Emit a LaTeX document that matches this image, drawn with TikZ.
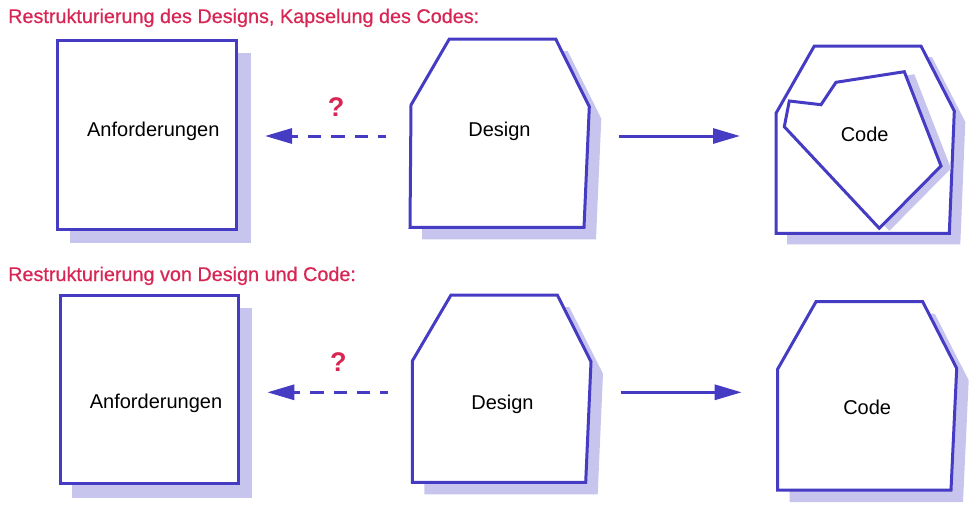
\documentclass[tikz,border=0pt]{standalone}
\usepackage{fontspec}
\setmainfont{Liberation Sans}
\newfontfamily\titlefont[FakeBold=0.6]{Liberation Sans}
\usetikzlibrary{arrows.meta}
\definecolor{strokeblue}{RGB}{70,60,196}
\definecolor{shadowblue}{RGB}{199,196,237}
\definecolor{titlered}{RGB}{216,38,84}
\begin{document}
\begin{tikzpicture}[x=1pt,y=-1pt,
  shapeline/.style={draw=strokeblue,line width=3pt,fill=white,line join=miter},
  shadowfill/.style={fill=shadowblue,draw=none},
  label/.style={inner sep=0pt,anchor=base,font=\fontsize{20}{23}\selectfont},
  titletext/.style={inner sep=0pt,anchor=base west,text=titlered,font=\titlefont\fontsize{19.8}{24}\selectfont},
  qmark/.style={inner sep=0pt,anchor=base,text=titlered,font=\fontsize{27}{30}\selectfont\bfseries},
  solidarrow/.style={draw=strokeblue,line width=3pt,-{Triangle[length=27pt,width=15pt]}},
  dasharrow/.style={solidarrow,dash pattern=on 13.3pt off 10pt,dash phase=5.3pt}]
\useasboundingbox (0,0) rectangle (974,509);

% ---------- titles ----------
\node[titletext] (t1) at (8,23) {Restrukturierung des Designs, Kapselung des Codes:};
\node[titletext] (t2) at (8,281) {Restrukturierung von Design und Code:};

% ---------- top row ----------
% Anforderungen
\fill[shadowfill] (70,53) rectangle (250.5,242.5);
\draw[shapeline] (57.7,40) rectangle (236,229);
\node[label] (anf1) at (153.3,136) {Anforderungen};
% Design
\fill[shadowfill] ([shift={(12,12)}]449.3,39) -- ([shift={(12,12)}]555.7,39) -- ([shift={(12,12)}]589.3,106.7) -- ([shift={(12,12)}]584,227.3) -- ([shift={(12,12)}]410,227.3) -- ([shift={(12,12)}]411,105) -- cycle;
\draw[shapeline] (449.3,39) -- (555.7,39) -- (589.3,106.7) -- (584,227.3) -- (410,227.3) -- (411,105) -- cycle;
\node[label] (des1) at (499.5,136.7) {Design};
% Code (outer)
\fill[shadowfill] ([shift={(11,11)}]814.3,46) -- ([shift={(11,11)}]921,46) -- ([shift={(11,11)}]954.3,111) -- ([shift={(11,11)}]949.3,233.3) -- ([shift={(11,11)}]776,233.3) -- ([shift={(11,11)}]776,113.3) -- cycle;
\draw[shapeline] (814.3,46) -- (921,46) -- (954.3,111) -- (949.3,233.3) -- (776,233.3) -- (776,113.3) -- cycle;
% Code (inner, encapsulated)
\fill[shadowfill] ([shift={(10,2.5)}]789.3,101) -- ([shift={(10,2.5)}]821,104.7) -- ([shift={(10,2.5)}]836,82.3) -- ([shift={(10,2.5)}]904.3,71.7) -- ([shift={(10,2.5)}]941,166) -- ([shift={(10,2.5)}]879.3,228.3) -- ([shift={(10,2.5)}]784.3,126.7) -- cycle;
\draw[shapeline] (789.3,101) -- (821,104.7) -- (836,82.3) -- (904.3,71.7) -- (941,166) -- (879.3,228.3) -- (784.3,126.7) -- cycle;
\node[label] (code1) at (864.7,141.7) {Code};

% arrows top
\coordinate (d1w) at (386,136);
\coordinate (a1e) at (265,136);
\coordinate (d1e) at (619,136);
\coordinate (c1w) at (740,136);
\draw[dasharrow] (d1w) -- (a1e);
\draw[solidarrow] (d1e) -- (c1w);
\node[qmark] (q1) at (336,116) {?};

% ---------- bottom row ----------
% Anforderungen
\fill[shadowfill] (72.3,308.3) rectangle (252.3,498.3);
\draw[shapeline] (60,295.7) rectangle (238.3,483.3);
\node[label] (anf2) at (156,408.3) {Anforderungen};
% Design
\fill[shadowfill] ([shift={(12,12)}]451,295) -- ([shift={(12,12)}]557.3,295) -- ([shift={(12,12)}]591,361.7) -- ([shift={(12,12)}]585.7,482.3) -- ([shift={(12,12)}]412.3,482.3) -- ([shift={(12,12)}]412.3,361) -- cycle;
\draw[shapeline] (451,295) -- (557.3,295) -- (591,361.7) -- (585.7,482.3) -- (412.3,482.3) -- (412.3,361) -- cycle;
\node[label] (des2) at (502.5,409) {Design};
% Code
\fill[shadowfill] ([shift={(12,12)}]816,301.7) -- ([shift={(12,12)}]922.7,301.7) -- ([shift={(12,12)}]956.7,368.3) -- ([shift={(12,12)}]951,490) -- ([shift={(12,12)}]777.7,490) -- ([shift={(12,12)}]777.7,369) -- cycle;
\draw[shapeline] (816,301.7) -- (922.7,301.7) -- (956.7,368.3) -- (951,490) -- (777.7,490) -- (777.7,369) -- cycle;
\node[label] (code2) at (867.2,414) {Code};

% arrows bottom
\coordinate (d2w) at (388.3,392.3);
\coordinate (a2e) at (267.3,392.3);
\coordinate (d2e) at (620.7,392.3);
\coordinate (c2w) at (741.7,392.3);
\draw[dasharrow] (d2w) -- (a2e);
\draw[solidarrow] (d2e) -- (c2w);
\node[qmark] (q2) at (338.3,371.7) {?};
\end{tikzpicture}
\end{document}
